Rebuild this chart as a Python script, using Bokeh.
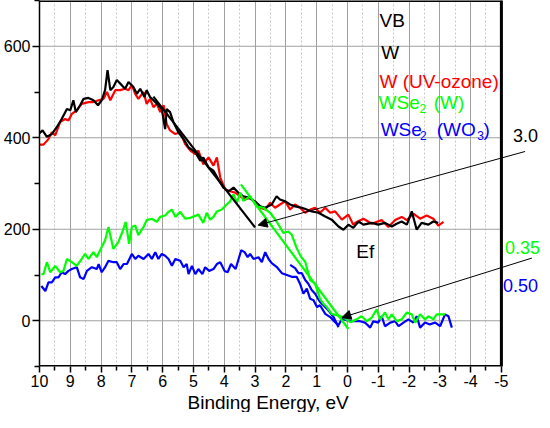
from bokeh.plotting import figure
from bokeh.models import Range1d, FixedTicker, Label, Arrow, NormalHead, Title
from bokeh.embed import file_html
from bokeh.resources import INLINE

# ---- data ----
w_x = [10.0, 9.9, 9.76, 9.6, 9.44, 9.28, 9.11, 9.0, 8.9, 8.82, 8.68, 8.57, 8.41, 8.25, 8.1,
       7.98, 7.87, 7.79, 7.7, 7.6, 7.49, 7.33, 7.22, 7.11, 6.95, 6.84, 6.73, 6.59, 6.52, 6.41,
       6.3, 6.14, 6.03, 5.92, 5.87, 5.76, 5.65, 5.49, 5.32, 5.16, 4.94, 4.78, 4.68, 4.51, 4.35,
       4.19, 4.03, 3.86, 3.7, 3.54, 3.38, 3.21, 3.0, 2.83, 2.67, 2.46, 2.3, 2.19, 2.02, 1.86,
       1.7, 1.48, 1.32, 1.16, 0.94, 0.72, 0.51, 0.29, 0.13, -0.03, -0.19, -0.36, -0.52, -0.79,
       -1.0, -1.22, -1.44, -1.6, -1.76, -1.93, -2.09, -2.25, -2.41, -2.63, -2.79, -2.95]
w_y = [410, 416, 402, 408, 423, 441, 463, 460, 482, 456, 471, 485, 487, 482, 471,
       482, 504, 548, 504, 511, 526, 515, 507, 522, 511, 496, 507, 489, 504, 489,
       482, 471, 463, 419, 463, 456, 434, 412, 397, 379, 368, 350, 357, 335, 328,
       309, 291, 283, 291, 280, 272, 269, 261, 250, 247, 254, 272, 265, 261, 254,
       250, 247, 243, 239, 236, 228, 221, 206, 199, 210, 203, 217, 210, 214,
       210, 214, 206, 212, 217, 210, 239, 199, 214, 210, 217, 214]

uv_x = [10.0, 9.87, 9.71, 9.6, 9.49, 9.33, 9.17, 9.06, 8.95, 8.79, 8.63, 8.41, 8.25, 8.08,
        7.92, 7.81, 7.7, 7.54, 7.38, 7.22, 7.11, 7.0, 6.89, 6.79, 6.62, 6.52, 6.41, 6.3, 6.19,
        6.08, 5.97, 5.87, 5.76, 5.59, 5.43, 5.27, 5.1, 4.94, 4.84, 4.68, 4.51, 4.35, 4.24, 4.13,
        3.97, 3.81, 3.65, 3.48, 3.32, 3.16, 3.0, 2.83, 2.67, 2.51, 2.35, 2.19, 2.02, 1.86, 1.7,
        1.54, 1.37, 1.21, 1.05, 0.89, 0.72, 0.56, 0.4, 0.18, -0.03, -0.19, -0.3, -0.52, -0.79,
        -1.11, -1.33, -1.55, -1.76, -1.93, -2.14, -2.36, -2.57, -2.79, -2.95, -3.12]
uv_y = [385, 385, 397, 412, 405, 434, 441, 438, 452, 460, 474, 478, 478, 482,
        485, 500, 482, 504, 504, 507, 504, 515, 496, 485, 500, 474, 485, 467, 474,
        456, 471, 430, 416, 408, 412, 386, 372, 364, 372, 342, 357, 339, 357, 313,
        287, 283, 280, 272, 265, 269, 258, 247, 243, 258, 247, 254, 261, 243, 254,
        247, 236, 243, 247, 236, 247, 236, 239, 221, 232, 210, 216, 223, 212,
        220, 205, 220, 227, 220, 234, 223, 230, 223, 208, 216]

wse_w_x = [9.94, 9.87, 9.76, 9.65, 9.49, 9.33, 9.22, 9.11, 8.95, 8.79, 8.63, 8.52, 8.41, 8.25,
           8.14, 7.98, 7.87, 7.76, 7.6, 7.44, 7.31, 7.2, 7.09, 7.0, 6.89, 6.79, 6.62, 6.52, 6.35,
           6.19, 6.08, 5.92, 5.81, 5.7, 5.59, 5.43, 5.27, 5.1, 4.84, 4.68, 4.57, 4.46, 4.35, 4.24,
           4.08, 3.92, 3.81, 3.7, 3.59, 3.48, 3.38, 3.16, 2.95, 2.73, 2.51, 2.3, 2.08, 1.92, 1.81,
           1.65, 1.54, 1.48, 1.37, 1.21, 1.05, 0.89, 0.78, 0.67, 0.51, 0.35, 0.13, -0.09, -0.3,
           -0.46, -0.63, -0.79, -0.95, -1.06, -1.22, -1.33, -1.44, -1.6, -1.76, -1.93, -2.09,
           -2.2, -2.36, -2.52, -2.63, -2.79, -2.9, -3.06, -3.17]
wse_w_y = [102, 102, 128, 106, 120, 106, 109, 135, 128, 120, 135, 146, 135, 150,
           139, 161, 176, 205, 157, 172, 194, 216, 168, 205, 208, 187, 205, 220, 223,
           216, 227, 230, 238, 243, 227, 238, 223, 225, 232, 214, 236, 221, 227, 239,
           243, 254, 261, 276, 258, 280, 262, 272, 250, 247, 236, 217, 192, 195, 188,
           159, 144, 137, 129, 89, 81, 48, 37, 30, 15, 12, 8, -3, 3,
           10, -1, 7, 25, 3, 18, 3, 14, -1, 3, 18, 14,
           -4, 14, 3, 10, 3, 14, 14, 14]

wse_o_x = [9.94, 9.81, 9.71, 9.6, 9.49, 9.38, 9.28, 9.17, 9.06, 8.95, 8.79, 8.68, 8.57, 8.46,
           8.3, 8.14, 8.08, 7.98, 7.87, 7.76, 7.6, 7.49, 7.38, 7.27, 7.16, 7.0, 6.89, 6.79, 6.62,
           6.46, 6.35, 6.24, 6.14, 6.03, 5.92, 5.81, 5.7, 5.59, 5.43, 5.32, 5.22, 5.16, 5.05, 4.94,
           4.84, 4.71, 4.62, 4.49, 4.35, 4.24, 4.13, 3.99, 3.89, 3.78, 3.63, 3.45, 3.34, 3.24,
           3.16, 3.05, 2.89, 2.78, 2.67, 2.56, 2.46, 2.3, 2.13, 1.97, 1.81, 1.65, 1.54, 1.43,
           1.32, 1.21, 1.1, 0.99, 0.89, 0.72, 0.56, 0.4, 0.29, 0.18, 0.02, -0.19, -0.41, -0.57,
           -0.74, -0.84, -1.0, -1.11, -1.22, -1.39, -1.55, -1.66, -1.82, -1.98, -2.14, -2.25,
           -2.36, -2.52, -2.68, -2.85, -3.01, -3.17, -3.28, -3.39]
wse_o_y = [76, 65, 84, 84, 95, 95, 106, 102, 109, 113, 117, 95, 91, 109,
           117, 113, 124, 106, 117, 131, 128, 128, 113, 124, 124, 146, 135, 142, 135,
           146, 135, 150, 135, 146, 142, 135, 120, 135, 131, 117, 124, 102, 120, 102,
           113, 102, 117, 109, 113, 124, 128, 109, 106, 124, 113, 154, 150, 139,
           146, 135, 139, 128, 150, 135, 126, 118, 104, 100, 96, 96, 81, 59,
           70, 48, 45, 30, 34, 15, 8, -3, -10, 4, 1, -1, -1, -4,
           -15, -1, -4, 10, -12, -4, -1, -12, -4, 3, -4, 10,
           -15, -4, -8, -4, -12, 14, 10, -15]

wse_o2_x = [1.86, 1.7, 1.59, 1.48, 1.37, 1.27, 1.16, 1.05, 0.89, 0.78, 0.62, 0.45, 0.29]
wse_o2_y = [122, 115, 104, 104, 89, 81, 67, 59, 41, 34, 23, 8, -14]

vb_fit_x = [6.3, 3.0]
vb_fit_y = [490, 204]
wse_fit_x = [3.46, -0.03]
wse_fit_y = [298, -18]

x_major_ticks = list(range(10, -6, -1))          # 10 ... -5
x_minor_ticks = [t - 0.5 for t in x_major_ticks[:-1]]
x_tick_labels = {t: str(t) for t in x_major_ticks}   # plain hyphen-minus as in the original
y_major_ticks = [0, 200, 400, 600]
y_minor_ticks = [-100, 100, 300, 500, 700]
x_lo, x_hi = 10, -5
y_lo, y_hi = -100, 700

FONT = "Liberation Sans"

p = figure(width=540, height=412, x_range=Range1d(x_lo, -6.27), y_range=Range1d(y_lo, y_hi),
           output_backend="svg", toolbar_location=None,
           min_border_left=36, min_border_right=0, min_border_top=0, min_border_bottom=0)
p.background_fill_color = "white"
p.border_fill_color = "white"
p.outline_line_color = None

p.xaxis.ticker = FixedTicker(ticks=x_major_ticks, minor_ticks=x_minor_ticks)
p.yaxis.ticker = FixedTicker(ticks=y_major_ticks, minor_ticks=y_minor_ticks)
p.xaxis.major_label_overrides = x_tick_labels

p.xgrid.grid_line_color = "#a0a0a0"
p.xgrid.grid_line_width = 1
p.xgrid.minor_grid_line_color = "#c8c8c8"
p.xgrid.minor_grid_line_dash = "2 2"
p.ygrid.grid_line_color = None

for ax in (p.xaxis[0], p.yaxis[0]):
    ax.axis_line_width = 1.5
    ax.major_tick_line_width = 1.5
    ax.minor_tick_line_width = 1.5
    ax.major_tick_in = 0
    ax.minor_tick_in = 0
    ax.major_label_text_font = FONT
    ax.major_label_text_font_size = "16px"
    ax.major_label_text_color = "black"
    ax.major_label_standoff = 2
    ax.axis_line_color = "black"
    ax.major_tick_line_color = "black"
    ax.minor_tick_line_color = "black"

p.xaxis.axis_line_color = None
p.xaxis.major_tick_out = 6
p.xaxis.minor_tick_out = 4
p.yaxis.major_tick_out = 7
p.yaxis.minor_tick_out = 5

p.add_layout(Title(text="Binding Energy, eV", align="left", offset=148, standoff=0,
                   text_font=FONT, text_font_size="19px", text_font_style="normal",
                   text_color="black"), "below")

# horizontal grid lines and plot box (frame ends at x = -5)
p.segment(x0=[x_lo] * len(y_major_ticks), y0=y_major_ticks,
          x1=[x_hi] * len(y_major_ticks), y1=y_major_ticks,
          line_color="#a0a0a0", line_width=1)
p.line([x_lo, x_hi, x_hi, x_lo], [y_hi, y_hi, y_lo, y_lo], line_color="black", line_width=3)
p.line([x_hi, x_hi], [y_lo, y_hi], line_color="black", line_width=1.5)

LW = 2.2
p.line(uv_x, uv_y, line_color="#ff0000", line_width=LW)
p.line(w_x, w_y, line_color="black", line_width=LW)
p.line(wse_o_x, wse_o_y, line_color="#0000ff", line_width=LW)
p.line(wse_o2_x, wse_o2_y, line_color="#0000ff", line_width=LW)
p.line(wse_w_x, wse_w_y, line_color="#00ff00", line_width=LW)
p.line(vb_fit_x, vb_fit_y, line_color="black", line_width=LW)
p.line(wse_fit_x, wse_fit_y, line_color="#00ff00", line_width=LW)

p.add_layout(Arrow(end=NormalHead(size=9, fill_color="black", line_color="black"),
                   x_start=-5.77, y_start=370, x_end=2.9, y_end=209,
                   line_color="black", line_width=1))
p.add_layout(Arrow(end=NormalHead(size=9, fill_color="black", line_color="black"),
                   x_start=-5.99, y_start=137, x_end=0.18, y_end=7,
                   line_color="black", line_width=1))


def lab(x, y, text, color="black", size="19px"):
    p.add_layout(Label(x=x, y=y, text=text, text_color=color, text_font=FONT,
                       text_font_size=size, text_align="left", text_baseline="middle"))


lab(-1.04, 657, "VB")
lab(-1.10, 586, "W")
lab(-1.04, 522, "W (UV-ozone)", "#ff0000")
lab(-1.01, 476, "WSe", "#00ff00")
lab(-2.34, 463, "2", "#00ff00", "12px")
lab(-2.8, 476, "(W)", "#00ff00")
lab(-1.08, 419, "WSe", "#0000ff")
lab(-2.36, 406, "2", "#0000ff", "12px")
lab(-2.9, 419, "(WO", "#0000ff")
lab(-4.22, 406, "3", "#0000ff", "12px")
lab(-4.42, 419, ")", "#0000ff")
lab(-5.38, 405, "3.0", size="18px")
lab(-0.29, 152, "Ef", size="19px")
lab(-5.12, 160, "0.35", "#00ff00", "18px")
lab(-5.05, 78, "0.50", "#0000ff", "18px")

open("out.html", "w").write(file_html(p, INLINE))
